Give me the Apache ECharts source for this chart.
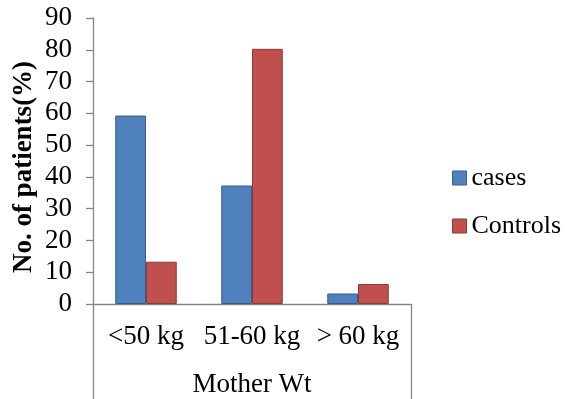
<!DOCTYPE html>
<html>
<head>
<meta charset="utf-8">
<script src="https://cdn.jsdelivr.net/npm/echarts@6/dist/echarts.min.js"></script>
<style>
  html, body { margin: 0; padding: 0; background: #ffffff; }
  #chart { width: 567px; height: 399px; }
</style>
</head>
<body>
<div id="chart"></div>
<script>
// Mother's weight groups and share of patients (%) in each
var categories = ['<50 kg', '51-60 kg', '> 60 kg'];
var casesValues = [59.3, 37.3, 3.3];
var controlsValues = [13.3, 80.3, 6.3];
var groupLabel = ['Mother Wt'];

var serif = '"Liberation Serif", "Times New Roman", serif';
var axisGray = '#868686';
var fs = 27;

var chart = echarts.init(document.getElementById('chart'), null, { renderer: 'canvas' });

chart.setOption({
  animation: false,
  backgroundColor: '#ffffff',
  textStyle: { fontFamily: serif, color: '#000' },
  grid: { left: 93, right: 156, top: 18, bottom: 95, containLabel: false, outerBoundsMode: 'none' },
  legend: {
    orient: 'vertical',
    left: 452,
    top: 165,
    padding: 0,
    itemWidth: 14,
    itemHeight: 14,
    itemGap: 22,
    itemStyle: { borderWidth: 1 },
    icon: 'rect',
    textStyle: { fontFamily: serif, fontSize: 26, color: '#000' },
    data: ['cases', 'Controls']
  },
  xAxis: [
    {
      type: 'category',
      data: categories,
      position: 'bottom',
      axisLine: { show: true, lineStyle: { color: axisGray, width: 1.3 } },
      axisTick: { show: false },
      axisLabel: { interval: 0, hideOverlap: false, fontFamily: serif, fontSize: fs, color: '#000', margin: 19 }
    },
    {
      type: 'category',
      data: groupLabel,
      position: 'bottom',
      gridIndex: 0,
      axisLine: { show: false },
      axisTick: { show: true, length: 96, lineStyle: { color: axisGray, width: 1.3 } },
      axisLabel: { interval: 0, fontFamily: serif, fontSize: fs, color: '#000', margin: 67 }
    }
  ],
  yAxis: {
    type: 'value',
    min: 0,
    max: 90,
    interval: 10,
    name: 'No. of patients(%)',
    nameLocation: 'middle',
    nameRotate: 90,
    nameGap: 55,
    nameMoveOverlap: false,
    nameTextStyle: { fontFamily: serif, fontSize: fs, fontWeight: 'bold', color: '#000', padding: [0, 12, 0, 0] },
    axisLine: { show: true, lineStyle: { color: axisGray, width: 1.3 } },
    axisTick: { show: true, inside: false, length: 7, lineStyle: { color: axisGray, width: 1.3 } },
    axisLabel: { fontFamily: serif, fontSize: fs, color: '#000', margin: 21 },
    splitLine: { show: false }
  },
  series: [
    {
      name: 'cases',
      type: 'bar',
      data: casesValues,
      barGap: '0%',
      barCategoryGap: '42%',
      itemStyle: { color: '#4F81BD', borderColor: '#385D8A', borderWidth: 1 }
    },
    {
      name: 'Controls',
      type: 'bar',
      data: controlsValues,
      barGap: '0%',
      barCategoryGap: '42%',
      itemStyle: { color: '#C0504D', borderColor: '#8C3836', borderWidth: 1 }
    }
  ]
});
</script>
</body>
</html>
